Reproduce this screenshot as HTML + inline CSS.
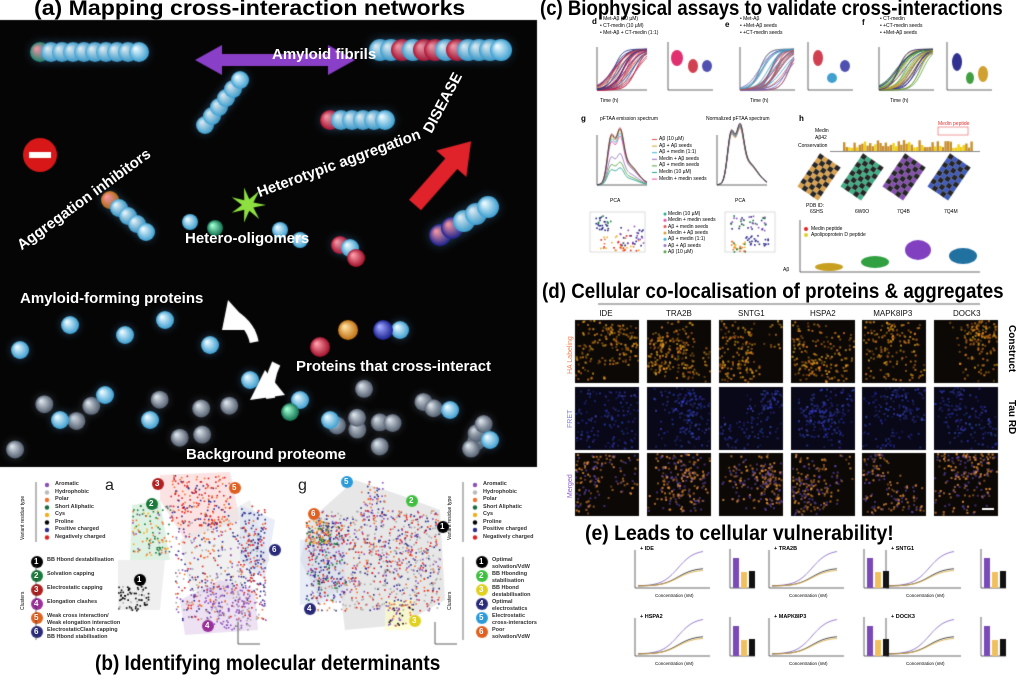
<!DOCTYPE html><html><head><meta charset="utf-8"><style>
html,body{margin:0;padding:0;background:#fff;}
#w{position:relative;width:1024px;height:683px;overflow:hidden;font-family:"Liberation Sans",sans-serif;}
canvas{position:absolute;left:0;top:0}
.t{position:absolute;white-space:nowrap;}
.h{font-weight:bold;color:#000;font-size:21px;transform-origin:left top;}
.wb{color:#fff;font-weight:bold;font-size:15px;}
</style></head><body><div id="w">
<canvas id="c" width="1024" height="683"></canvas>
<div class="t h" style="left:34px;top:-3px;transform:scaleX(1.1);">(a) Mapping cross-interaction networks</div>
<div class="t h" style="left:540px;top:-3px;transform:scaleX(0.885);">(c) Biophysical assays to validate cross-interactions</div>
<div class="t h" style="left:542px;top:280px;transform:scaleX(0.895);">(d) Cellular co-localisation of proteins &amp; aggregates</div>
<div class="t h" style="left:585px;top:522px;transform:scaleX(0.925);">(e) Leads to cellular vulnerability!</div>
<div class="t h" style="left:95px;top:652px;transform:scaleX(0.905);">(b) Identifying molecular determinants</div>
<div class="t wb" style="left:272px;top:46px;">Amyloid fibrils</div>
<div class="t wb" style="left:420px;top:128px;transform:rotate(-62deg);transform-origin:left top;">DISEASE</div>
<div class="t wb" style="left:255px;top:185px;transform:rotate(-20deg);transform-origin:left top;">Heterotypic aggregation</div>
<div class="t wb" style="left:14px;top:240px;transform:rotate(-36deg);transform-origin:left top;">Aggregation inhibitors</div>
<div class="t wb" style="left:185px;top:230px;">Hetero-oligomers</div>
<div class="t wb" style="left:20px;top:290px;">Amyloid-forming proteins</div>
<div class="t wb" style="left:296px;top:358px;">Proteins that cross-interact</div>
<div class="t wb" style="left:186px;top:446px;">Background proteome</div>
<div id="txt"></div>
</div>
<script>
var cv=document.getElementById('c'),g=cv.getContext('2d');
var seed=7;function R(){seed=(seed*16807)%2147483647;return (seed-1)/2147483646;}
var T=document.getElementById('txt');
function txt(x,y,s,css){var d=document.createElement('div');d.className='t';d.style.left=x+'px';d.style.top=y+'px';d.style.cssText+=css||'';d.textContent=s;T.appendChild(d);}
g.fillStyle='#050505';g.fillRect(0,20,537,447);
function sph(x,y,r,c1,c2,glow){if(glow){var gg=g.createRadialGradient(x,y,r*0.5,x,y,r*2);gg.addColorStop(0,glow);gg.addColorStop(1,'rgba(0,0,0,0)');g.fillStyle=gg;g.beginPath();g.arc(x,y,r*2,0,7);g.fill();}
var gr=g.createRadialGradient(x-r*.35,y-r*.35,r*.1,x,y,r);gr.addColorStop(0,c1);gr.addColorStop(1,c2);g.fillStyle=gr;g.beginPath();g.arc(x,y,r,0,7);g.fill();}
var B1='#e8f8ff',B2='#3a9ed0';
function chain(x0,y0,dx,dy,n,r,cols){for(var i=0;i<n;i++){var c=cols&&cols[i];sph(x0+dx*i,y0+dy*i,r,c?'#ff9aa8':B1,c||B2,'rgba(90,180,255,0.25)');}}
for(var i=0;i<22;i++){var x=15+R()*500,y=385+R()*70;sph(x,y,9,'#d8e0e8','#556070','rgba(150,170,200,0.25)');}
[[70,325],[125,335],[165,320],[210,345],[105,395],[250,380],[300,400],[330,420],[60,420],[400,330],[450,410],[490,440],[150,420],[20,350]].forEach(function(p){sph(p[0],p[1],9,B1,B2,'rgba(90,180,255,0.3)');});
sph(320,347,10,'#ff9aa8','#a0102a');sph(348,330,10,'#ffe0a0','#c07010');sph(383,330,10,'#a0a8ff','#1a2090');sph(290,412,9,'#a0ffd0','#107050');
chain(40,52,11,0,10,10,['#1a8a70']);chain(380,50,11,0,12,11,[0,0,'#b01030',0,'#b01030','#b01030',0,'#b01030']);
chain(205,125,7,-9,6,9);chain(330,120,11,0,6,10,['#b01030']);
chain(110,200,9,8,5,9,['#c07010']);chain(440,235,12,-7,5,11,['#1a2090','#1a2090']);
chain(340,245,10,3,2,9,['#b01030']);sph(356,258,9,'#ff9aa8','#a0102a');
sph(215,228,8,'#a0ffd0','#107050');sph(190,222,8,B1,B2);sph(280,230,8,B1,B2);sph(300,240,8,B1,B2);
g.fillStyle='#d81818';g.beginPath();g.arc(40,155,17,0,7);g.fill();g.fillStyle='#fff';g.fillRect(29,152,22,6);
g.fillStyle='#8a3fc8';g.beginPath();g.moveTo(195,60);g.lineTo(222,45);g.lineTo(222,54);g.lineTo(328,54);g.lineTo(328,45);g.lineTo(355,60);g.lineTo(328,75);g.lineTo(328,66);g.lineTo(222,66);g.lineTo(222,75);g.closePath();g.fill();
g.save();g.translate(415,205);g.rotate(-0.85);g.fillStyle='#e0222a';g.beginPath();g.moveTo(0,-8);g.lineTo(55,-8);g.lineTo(55,-20);g.lineTo(85,0);g.lineTo(55,20);g.lineTo(55,8);g.lineTo(0,8);g.closePath();g.fill();g.restore();
g.fillStyle='#8ee040';g.beginPath();for(var i=0;i<14;i++){var a=i*Math.PI/7,rr=i%2?6:18;g.lineTo(248+rr*Math.cos(a),205+rr*Math.sin(a));}g.fill();
g.strokeStyle='#fff';g.lineWidth=9;g.beginPath();g.arc(215,350,40,-0.2,-1.2,true);g.stroke();
g.fillStyle='#fff';g.beginPath();g.moveTo(228,300);g.lineTo(255,330);g.lineTo(222,330);g.fill();
g.beginPath();g.arc(330,390,60,3.6,3.0,true);g.stroke();
g.beginPath();g.moveTo(265,370);g.lineTo(250,400);g.lineTo(285,395);g.fill();
function blob(pts,c){g.fillStyle=c;g.beginPath();pts.forEach(function(p,i){i?g.lineTo(p[0],p[1]):g.moveTo(p[0],p[1]);});g.closePath();g.fill();}
blob([[160,475],[230,472],[240,520],[185,540],[160,500]],'rgba(250,200,200,.5)');
blob([[132,505],[160,500],[170,560],[130,560]],'rgba(190,230,200,.5)');
blob([[180,540],[250,500],[270,560],[230,600],[190,590]],'rgba(230,230,230,.6)');
blob([[220,580],[255,590],[258,630],[185,635],[180,600]],'rgba(225,205,235,.6)');
blob([[118,560],[165,560],[160,610],[118,610]],'rgba(235,235,235,.8)');
blob([[240,505],[275,520],[265,580],[240,560]],'rgba(210,220,240,.5)');
blob([[355,480],[400,495],[440,510],[445,600],[400,625],[345,630],[340,590],[320,600],[300,560],[310,520]],'rgba(215,215,215,.6)');
blob([[300,540],[345,535],[345,600],[300,605]],'rgba(210,220,240,.5)');
blob([[385,600],[415,600],[410,630],[385,630]],'rgba(255,255,190,.6)');
var cols=['#8a50b8','#aaa','#f07030','#1a7a3a','#f0b020','#000','#2a2a8a','#e02020'];
function dots(x0,y0,w,h,n,bias){for(var i=0;i<n;i++){var x=x0+R()*w,y=y0+R()*h;g.fillStyle=cols[bias?bias[Math.floor(R()*bias.length)]:Math.floor(R()*8)];g.fillRect(x,y,1.6,1.6);}}
dots(170,475,60,50,200,[7,7,6,2]);dots(132,505,40,50,120,[3,3,4,2,0]);dots(175,520,90,100,450,[0,1,2,6,7]);dots(118,585,30,25,70,[5,5,5,1]);dots(240,505,25,80,100,[6,6,7]);dots(205,585,45,45,140,[0,0,1]);
dots(360,480,25,40,60,[6,2,0]);dots(310,510,130,100,900,[1,1,0,6,2,7]);dots(305,520,40,80,200,[6,6,0,7,3]);dots(388,603,25,22,40,[5,0,2]);dots(305,520,25,25,80,[3,2,4]);
function num(x,y,n,c){g.fillStyle=c;g.beginPath();g.arc(x,y,6,0,7);g.fill();txt(x-3,y-5,n,'color:#fff;font-size:8px;font-weight:bold');}
num(152,504,'2','#1a7a3a');num(158,484,'3','#b02020');num(235,488,'5','#e06020');num(275,550,'6','#2a2a7a');num(140,580,'1','#000');num(208,626,'4','#9a309a');
num(347,482,'5','#2a9ad8');num(412,501,'2','#40c040');num(443,527,'1','#000');num(314,514,'6','#e06020');num(310,609,'4','#2a2a7a');num(415,621,'3','#e0d020');
txt(105,477,'a','font-size:16px;color:#222');txt(298,477,'g','font-size:16px;color:#222');
var L=['Aromatic','Hydrophobic','Polar','Short Aliphatic','Cys','Proline','Positive charged','Negatively charged'];
var lc=['#8a50b8','#bbb','#f07030','#1a6a3a','#f0b020','#000','#2a2a8a','#e02020'];
L.forEach(function(s,i){g.fillStyle=lc[i];g.beginPath();g.arc(47,485+i*7.5,2.2,0,7);g.fill();g.beginPath();g.arc(475,485+i*7.5,2.2,0,7);g.fill();txt(55,481+i*7.5,s,'font-size:5.5px;font-weight:bold;color:#333');txt(483,481+i*7.5,s,'font-size:5.5px;font-weight:bold;color:#333');});
var C1=['BB Hbond destabilisation','Solvation capping','Electrostatic capping','Elongation clashes','Weak cross interaction/ Weak elongation interaction','ElectrostaticClash capping BB Hbond stabilisation'];
var C1c=['#000','#1a7a3a','#b02020','#9a309a','#e06020','#2a2a7a'];
var C2=['Optimal solvation/VdW','BB Hbonding stabilisation','BB Hbond destabilisation','Optimal electrostatics','Electrostatic cross-interactors','Poor solvation/VdW'];
var C2c=['#000','#40c040','#e0d020','#2a2a7a','#2a9ad8','#e06020'];
for(var i=0;i<6;i++){num(37,562+i*14,''+(i+1),C1c[i]);txt(47,557+i*14,C1[i],'font-size:5.5px;font-weight:bold;color:#333;width:75px;white-space:normal;line-height:6.5px');num(482,562+i*14,''+(i+1),C2c[i]);txt(492,557+i*14,C2[i],'font-size:5.5px;font-weight:bold;color:#333;width:50px;white-space:normal;line-height:6.5px');}
g.strokeStyle='#333';g.lineWidth=0.7;[[36,482,542],[463,482,542],[36,557,640],[463,557,640]].forEach(function(a){g.beginPath();g.moveTo(a[0],a[1]);g.lineTo(a[0],a[2]);g.stroke();});
txt(20,495,'Variant residue type','font-size:5px;transform:rotate(-90deg);transform-origin:left top;top:540px');txt(447,495,'Variant residue type','font-size:5px;transform:rotate(-90deg);transform-origin:left top;top:540px');
txt(20,610,'Clusters','font-size:5px;transform:rotate(-90deg);transform-origin:left top');txt(447,610,'Clusters','font-size:5px;transform:rotate(-90deg);transform-origin:left top');
function uax(x,y){g.strokeStyle='#333';g.lineWidth=0.8;g.beginPath();g.moveTo(x,y-22);g.lineTo(x,y);g.lineTo(x+22,y);g.stroke();}
uax(238,644);uax(435,644);
function ax(x,y,w,h){g.strokeStyle='#222';g.lineWidth=0.7;g.beginPath();g.moveTo(x,y);g.lineTo(x,y+h);g.lineTo(x+w,y+h);g.stroke();}
function sig(x,y,w,h,n,colsA,spread){for(var i=0;i<n;i++){var c=colsA[i%colsA.length],m=x+w*(0.3+R()*spread),k=4+R()*4;g.strokeStyle=c;g.lineWidth=0.8;g.beginPath();for(var t=0;t<=w;t+=2){var v=1/(1+Math.exp(-(x+t-m)/k));g.lineTo(x+t,y+h-v*h*0.95);}g.stroke();}}
ax(597,47,50,43);sig(597,47,50,43,30,['#c02050','#d07060','#202a80'],0.5);
ax(740,47,55,43);sig(740,47,55,43,30,['#40a0c0','#7060b0','#c05050'],0.6);
ax(879,47,55,43);sig(879,47,55,43,30,['#d0a030','#50a040','#202080'],0.5);
function vio(x,y,h,w,c){g.fillStyle=c;g.beginPath();g.ellipse(x,y,w,h,0,0,7);g.fill();}
ax(668,42,45,48);vio(677,58,8,6,'#e03070');vio(693,66,7,5,'#d04050');vio(707,66,6,5,'#5050b0');
ax(808,42,45,48);vio(818,58,8,5,'#d04050');vio(832,78,5,5,'#40a0d0');vio(845,66,6,5,'#5050b0');
ax(947,42,45,48);vio(957,62,9,5,'#303090');vio(970,78,6,4,'#40a040');vio(983,74,8,5,'#d0a030');
txt(592,17,'d','font-size:8px;font-weight:bold');txt(725,20,'e','font-size:8px;font-weight:bold');txt(862,18,'f','font-size:8px;font-weight:bold');
txt(600,16,'• Met-Aβ (10 µM)','font-size:5px');txt(600,23,'• CT-medin (10 µM)','font-size:5px');txt(600,30,'• Met-Aβ + CT-medin (1:1)','font-size:5px');
txt(740,16,'• Met-Aβ','font-size:5px');txt(740,23,'• +Met-Aβ seeds','font-size:5px');txt(740,30,'• +CT-medin seeds','font-size:5px');
txt(880,16,'• CT-medin','font-size:5px');txt(880,23,'• +CT-medin seeds','font-size:5px');txt(880,30,'• +Met-Aβ seeds','font-size:5px');
txt(600,98,'Time (h)','font-size:5px');txt(750,98,'Time (h)','font-size:5px');txt(890,98,'Time (h)','font-size:5px');
txt(581,114,'g','font-size:8px;font-weight:bold');txt(600,116,'pFTAA emission spectrum','font-size:5px');txt(706,116,'Normalized pFTAA spectrum','font-size:5px');
ax(597,135,50,50);ax(717,135,50,50);
var gc=['#e05050','#d0a030','#40b0d0','#9070c0','#50a040','#20a090','#e050a0','#333'];
for(var i=0;i<8;i++){var amp=[1,.95,.9,.55,.4,.3,.85,.98][i];g.strokeStyle=gc[i];g.lineWidth=0.8;[[597,amp],[717,1]].forEach(function(p){g.beginPath();for(var t=0;t<=50;t++){var v=Math.exp(-Math.pow((t-14)/5,2))+0.9*Math.exp(-Math.pow((t-23)/5,2))+0.5*Math.exp(-Math.pow((t-30)/14,2));g.lineTo(p[0]+t,185-v*48*p[1]*(p[1]==1?0.9+i*0.01:0.9));}g.stroke();});}
['Aβ (10 µM)','Aβ + Aβ seeds','Aβ + medin (1:1)','Medin + Aβ seeds','Aβ + medin seeds','Medin (10 µM)','Medin + medin seeds'].forEach(function(s,i){g.fillStyle=gc[i];g.fillRect(652,139+i*6.6,5,1);txt(659,136+i*6.6,s,'font-size:5px');});
g.strokeStyle='#bbb';g.lineWidth=0.5;g.strokeRect(590,212,55,40);g.strokeRect(725,212,50,40);
dots(595,215,15,15,30,[6,6,3]);dots(600,235,40,15,40,[2,4,7]);dots(618,225,25,20,30,[6,0]);
dots(730,215,35,15,40,[0,3,6]);dots(730,240,15,12,30,[4,3,2]);dots(745,235,25,10,25,[6]);
['Medin (10 µM)','Medin + medin seeds','Aβ + medin seeds','Medin + Aβ seeds','Aβ + medin (1:1)','Aβ + Aβ seeds','Aβ (10 µM)'].forEach(function(s,i){g.fillStyle=gc[(i+5)%7];g.beginPath();g.arc(665,214+i*6.3,1.5,0,7);g.fill();txt(668,211+i*6.3,s,'font-size:5px');});
txt(610,198,'PCA','font-size:5px');txt(735,198,'PCA','font-size:5px');
txt(799,114,'h','font-size:8px;font-weight:bold');txt(815,128,'Medin','font-size:5px');txt(815,135,'Aβ42','font-size:5px');txt(798,143,'Conservation','font-size:5px');txt(938,121,'Medin peptide','font-size:5px;color:#e03030');
g.strokeStyle='#e03030';g.strokeRect(938,127,30,8);
for(var i=0;i<50;i++){var hh=3+R()*8;g.fillStyle=R()>.6?'#f0d010':'#c89030';g.fillRect(843+i*2.6,151-hh,2.4,hh);}
g.fillStyle='#888';g.fillRect(830,151,150,1);
function blk(x,y,c){g.save();g.translate(x,y);g.rotate(0.6);for(var i=0;i<8;i++)for(var j=0;j<5;j++){g.fillStyle=(i+j)%2?c:'#000';g.globalAlpha=.85;g.fillRect(-15+j*5,-22+i*5,5,5);}g.restore();g.globalAlpha=1;}
blk(820,180,'#d09030');blk(863,180,'#20a070');blk(905,180,'#7030a0');blk(950,180,'#2040b0');
txt(806,203,'PDB ID:','font-size:5px');txt(810,209,'6SHS','font-size:5px');txt(855,209,'6W0O','font-size:5px');txt(897,209,'7Q4B','font-size:5px');txt(944,209,'7Q4M','font-size:5px');
g.fillStyle='#e02020';g.beginPath();g.arc(806,229,2,0,7);g.fill();g.fillStyle='#e0d020';g.beginPath();g.arc(806,235,2,0,7);g.fill();
txt(811,226,'Medin peptide','font-size:5px');txt(811,232,'Apolipoprotein D peptide','font-size:5px');
vio(829,267,4,14,'#c8a020');vio(875,262,6,14,'#30a040');vio(918,250,10,13,'#8040c0');vio(963,256,8,14,'#2070a0');
ax(800,220,180,52);txt(783,267,'Aβ','font-size:5px');
g.strokeStyle='#666';g.lineWidth=1;g.beginPath();g.moveTo(598,304);g.lineTo(980,304);g.stroke();
var colsX=[575,647,719,791,862,934],names=['IDE','TRA2B','SNTG1','HSPA2','MAPK8IP3','DOCK3'];
colsX.forEach(function(x,ci){txt(x+32-names[ci].length*2.6,309,names[ci],'font-size:8px;color:#111');
[320,387,453].forEach(function(y,ri){g.fillStyle=ri==1?'#080818':'#0c0806';g.fillRect(x,y,64,63);
var cx=[],cy=[];for(var q=0;q<6;q++){cx.push(x+R()*64);cy.push(y+R()*63);}
for(var k=0;k<(ri==1?220:260);k++){var q=Math.floor(R()*6),px=cx[q]+(R()-.5)*40,py=cy[q]+(R()-.5)*40;if(px<x||px>x+62||py<y||py>y+61)continue;
if(ri==1){g.fillStyle='rgba('+(40+R()*40)+','+(50+R()*40)+','+(150+R()*100)+','+(.25+R()*.4)+')';}else if(ri==0){g.fillStyle='rgba(230,'+(120+R()*60)+',30,'+(.3+R()*.5)+')';}else{g.fillStyle=R()>.4?'rgba(240,150,60,'+(.35+R()*.5)+')':'rgba(110,80,200,.55)';}g.fillRect(px,py,2,2);}});});
g.fillStyle='#fff';g.fillRect(982,508,12,2);
txt(567,325,'HA Labeling','font-size:7px;color:#f08050;transform:rotate(-90deg);transform-origin:left top;top:374px');
txt(567,392,'FRET','font-size:7px;color:#8080e0;transform:rotate(-90deg);transform-origin:left top;top:428px');
txt(567,455,'Merged','font-size:7px;color:#9060d0;transform:rotate(-90deg);transform-origin:left top;top:498px');
txt(1017,325,'Construct','font-size:10px;font-weight:bold;transform:rotate(90deg);transform-origin:left top');
txt(1017,400,'Tau RD','font-size:10px;font-weight:bold;transform:rotate(90deg);transform-origin:left top');
var EN=['IDE','TRA2B','SNTG1','HSPA2','MAPK8IP3','DOCK3'];
for(var i=0;i<6;i++){var x=[635,769,886][i%3],y=[550,618][Math.floor(i/3)];
ax(x,y,75,38);ax(x+95,y-1,25,39);
[['#8060c0',1],['#222',.5],['#e0b040',.45]].forEach(function(p){g.strokeStyle=p[0];g.lineWidth=0.8;g.beginPath();for(var t=0;t<=65;t++){var v=1/(1+Math.exp(-(t-40)/8));g.lineTo(x+3+t,y+36-v*36*p[1]);}g.stroke();});
g.fillStyle='#7a4ab8';g.fillRect(x+98,y+8,6,30);g.fillStyle='#f0c060';g.fillRect(x+106,y+22,6,16);g.fillStyle='#111';g.fillRect(x+114,y+21,6,17);
txt(x+5,y-4,'+ '+EN[i],'font-size:5.5px;font-weight:bold');txt(x+20,y+43,'Concentration (nM)','font-size:4.5px');}
</script></body></html>
